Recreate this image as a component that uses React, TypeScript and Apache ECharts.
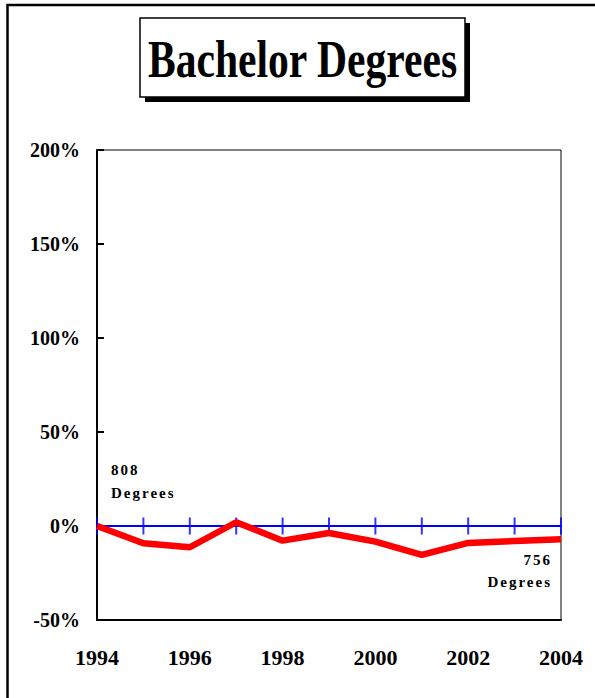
import React, { useEffect, useRef } from 'react';
import * as echarts from 'echarts';

// ---- data ----
const years = [1994, 1995, 1996, 1997, 1998, 1999, 2000, 2001, 2002, 2003, 2004];
const changePct = [0, -9.2, -11.3, 2.0, -7.8, -3.7, -8.3, -15.4, -9.0, -8.0, -7.0];
const zeroLine = [0, 0];
const yMin = -50;
const yMax = 200;
const yStep = 50;
const xStep = 2;
const chartTitle = 'Bachelor Degrees';
const startNote = ['808', 'Degrees'];
const endNote = ['756', 'Degrees'];

const FONT = '"Liberation Serif", "Times New Roman", Times, serif';

export default function App() {
  const ref = useRef<HTMLDivElement>(null);

  useEffect(() => {
    if (!ref.current) return;
    const chart = echarts.init(ref.current, null, { renderer: 'svg', width: 595, height: 698 });

    chart.setOption({
      animation: false,
      backgroundColor: '#ffffff',
      grid: {
        left: 97,
        right: 34,
        top: 150,
        bottom: 78,
        show: true,
        borderColor: '#000',
        borderWidth: 1,
        backgroundColor: 'transparent',
      },
      xAxis: {
        type: 'value',
        min: years[0],
        max: years[years.length - 1],
        interval: xStep,
        axisLine: { show: true, onZero: false, lineStyle: { color: '#000', width: 2 } },
        axisTick: { show: false },
        splitLine: { show: false },
        axisLabel: {
          color: '#000',
          fontFamily: FONT,
          fontWeight: 'bold',
          fontSize: 22,
          margin: 26,
          formatter: (v: number) => String(v),
        },
      },
      yAxis: {
        type: 'value',
        min: yMin,
        max: yMax,
        interval: yStep,
        axisLine: { show: true, lineStyle: { color: '#000', width: 2 } },
        axisTick: { show: true, inside: true, length: 7, lineStyle: { color: '#000', width: 2 } },
        splitLine: { show: false },
        axisLabel: {
          color: '#000',
          fontFamily: FONT,
          fontWeight: 'bold',
          fontSize: 20,
          margin: 17,
          formatter: (v: number) => v + '%',
        },
      },
      series: [
        {
          type: 'line',
          data: [
            [years[0], zeroLine[0]],
            [years[years.length - 1], zeroLine[1]],
          ],
          symbol: 'none',
          lineStyle: { color: '#0000ff', width: 2 },
          z: 2,
          silent: true,
        },
        {
          type: 'scatter',
          data: years.map((y) => [y, 0]),
          symbol: 'rect',
          symbolSize: [2, 17],
          itemStyle: { color: '#0000ff' },
          z: 3,
          silent: true,
        },
        {
          type: 'line',
          data: years.map((y, i) => [y, changePct[i]]),
          symbol: 'none',
          lineStyle: { color: '#ff0000', width: 6.5 },
          z: 4,
          silent: true,
        },
      ],
    });

    const p0 = chart.convertToPixel({ gridIndex: 0 }, [years[0], 0]) as number[];
    const p1 = chart.convertToPixel({ gridIndex: 0 }, [years[years.length - 1], 0]) as number[];

    const noteStyle = (text: string, align: string) => ({
      text,
      fill: '#000',
      font: `bold 15px ${FONT}`,
      textAlign: align,
      align,
      textVerticalAlign: 'middle',
      verticalAlign: 'middle',
    });

    chart.setOption({
      graphic: [
        {
          type: 'rect',
          silent: true,
          z: 100,
          shape: { x: 7.5, y: 5, width: 700, height: 800 },
          style: { fill: 'none', stroke: '#000', lineWidth: 2.5 },
        },
        {
          type: 'rect',
          silent: true,
          z: 100,
          shape: { x: 145, y: 23, width: 325, height: 79 },
          style: { fill: '#000' },
        },
        {
          type: 'rect',
          silent: true,
          z: 101,
          shape: { x: 140, y: 18, width: 325, height: 79 },
          style: { fill: '#fff', stroke: '#000', lineWidth: 1.5 },
        },
        {
          type: 'text',
          silent: true,
          z: 102,
          x: 302.5,
          y: 59,
          scaleX: 0.8,
          style: {
            text: chartTitle,
            fill: '#000',
            font: `bold 52px ${FONT}`,
            textAlign: 'center',
            align: 'center',
            textVerticalAlign: 'middle',
            verticalAlign: 'middle',
          },
        },
        { type: 'text', silent: true, z: 102, x: p0[0] + 14, y: p0[1] - 56, style: noteStyle(startNote[0], 'left') },
        { type: 'text', silent: true, z: 102, x: p0[0] + 14, y: p0[1] - 33, style: noteStyle(startNote[1], 'left') },
        { type: 'text', silent: true, z: 102, x: p1[0] - 9, y: p1[1] + 34, style: noteStyle(endNote[0], 'right') },
        { type: 'text', silent: true, z: 102, x: p1[0] - 9, y: p1[1] + 56, style: noteStyle(endNote[1], 'right') },
      ],
    });

    const spaced = new Set([...startNote, ...endNote]);
    ref.current.querySelectorAll('text').forEach((t) => {
      if (spaced.has((t.textContent || '').trim())) {
        (t as SVGTextElement).style.letterSpacing = '2px';
      }
    });

    return () => {
      chart.dispose();
    };
  }, []);

  return (
    <div
      ref={ref}
      style={{ position: 'fixed', left: 0, top: 0, width: 595, height: 698, background: '#fff' }}
    />
  );
}
